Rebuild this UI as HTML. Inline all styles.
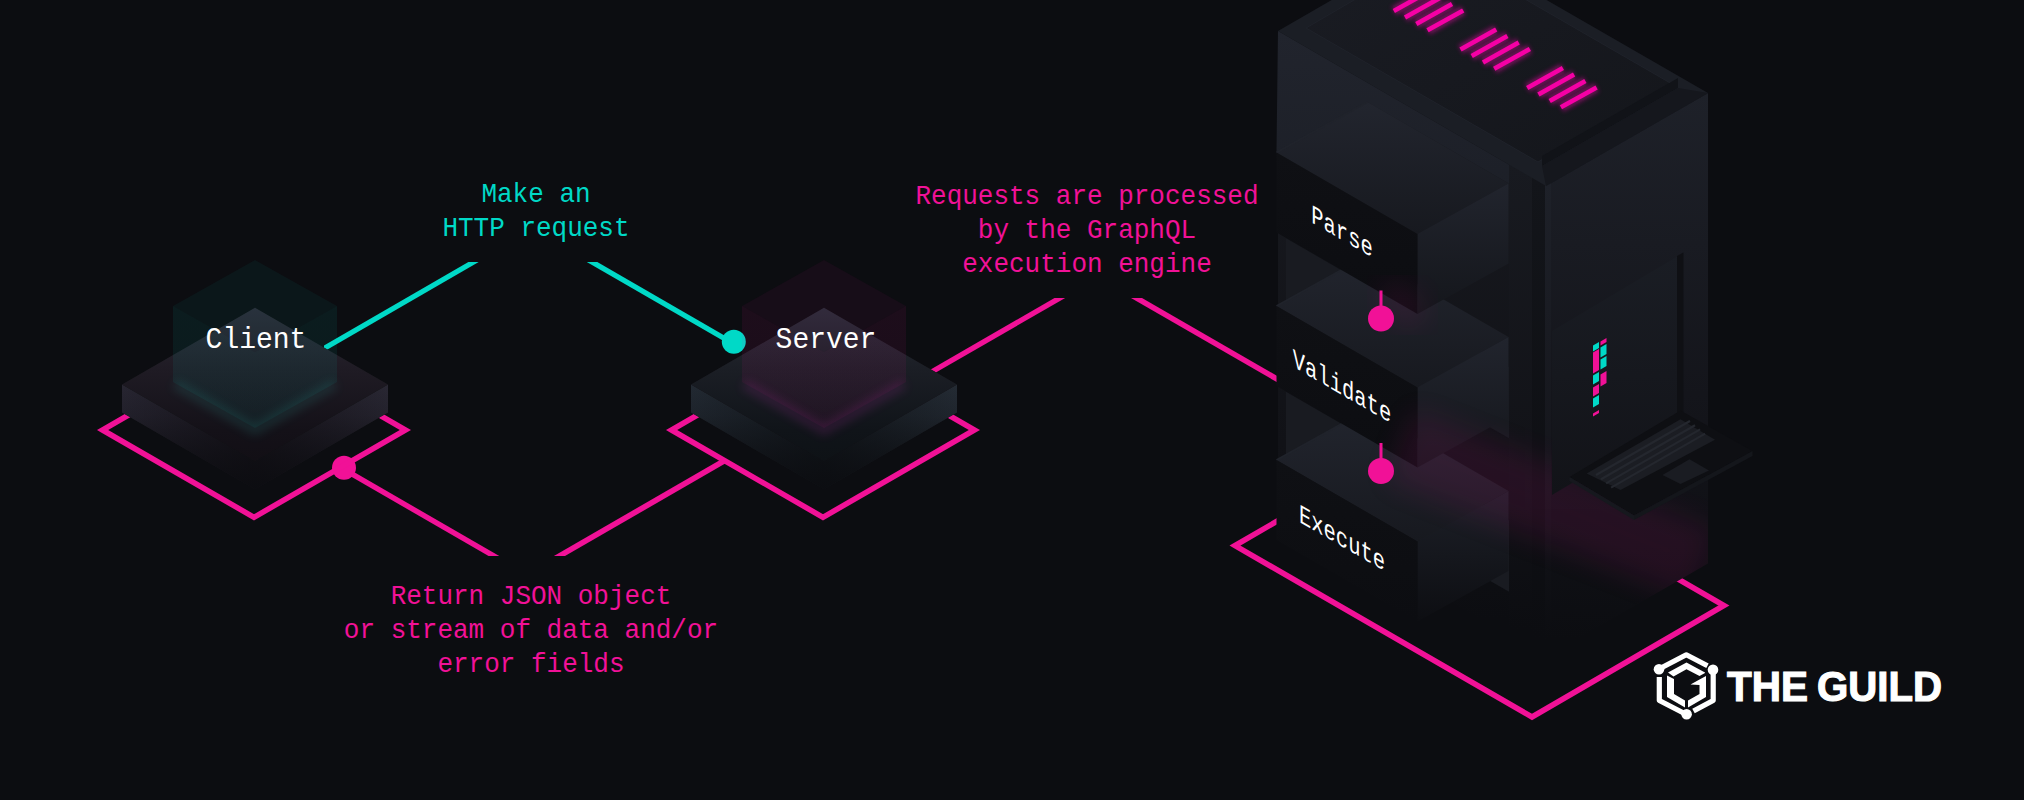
<!DOCTYPE html>
<html><head><meta charset="utf-8"><style>
html,body{margin:0;padding:0;background:#0c0d11;width:2024px;height:800px;overflow:hidden}
svg{display:block}

</style></head><body>
<svg width="2024" height="800" viewBox="0 0 2024 800">
<defs>
  <filter id="blur5" x="-30%" y="-30%" width="160%" height="160%"><feGaussianBlur stdDeviation="5"/></filter>
  <filter id="blur14" x="-50%" y="-50%" width="200%" height="200%"><feGaussianBlur stdDeviation="14"/></filter>
  <clipPath id="towclip"><polygon points="1278,31 1439,-62 1708,93 1708,563.5 1546,657 1278,502"/></clipPath>
  <linearGradient id="lid" x1="0" y1="0" x2="1" y2="1"><stop offset="0" stop-color="#1a1c23"/><stop offset="1" stop-color="#14161b"/></linearGradient>
  <filter id="blur3" x="-20%" y="-20%" width="140%" height="140%"><feGaussianBlur stdDeviation="3"/></filter>
  <filter id="blur2" x="-50%" y="-50%" width="200%" height="200%"><feGaussianBlur stdDeviation="2"/></filter>
  <filter id="blur20" x="-50%" y="-50%" width="200%" height="200%"><feGaussianBlur stdDeviation="20"/></filter>
  <linearGradient id="slabL" x1="0" y1="0" x2="0" y2="1">
    <stop offset="0" stop-color="#21232c"/><stop offset="0.45" stop-color="#1b1b24"/><stop offset="1" stop-color="#0c0d11" stop-opacity="0"/>
  </linearGradient>
  <linearGradient id="slabR" x1="0" y1="0" x2="0" y2="1">
    <stop offset="0" stop-color="#21232c"/><stop offset="0.45" stop-color="#1b1b24"/><stop offset="1" stop-color="#0c0d11" stop-opacity="0"/>
  </linearGradient>
  <linearGradient id="slabT_client" x1="0" y1="0" x2="0" y2="1">
    <stop offset="0" stop-color="#262a33"/><stop offset="1" stop-color="#1a1820"/>
  </linearGradient>
  <linearGradient id="slabT_server" x1="0" y1="0" x2="0" y2="1">
    <stop offset="0" stop-color="#282632"/><stop offset="1" stop-color="#1e1622"/>
  </linearGradient>
  <linearGradient id="glow_client" x1="0" y1="0" x2="0" y2="1"><stop offset="0" stop-color="#1f6a66" stop-opacity="0.2"/><stop offset="1" stop-color="#1f6a66"/></linearGradient>
  <linearGradient id="glow_server" x1="0" y1="0" x2="0" y2="1"><stop offset="0" stop-color="#7a2070" stop-opacity="0.2"/><stop offset="1" stop-color="#7a2070"/></linearGradient>
  <linearGradient id="cubeL_client" x1="0" y1="0" x2="0" y2="1"><stop offset="0" stop-color="#1d5a58" stop-opacity="0.18"/><stop offset="1" stop-color="#1d5a58" stop-opacity="0.22"/></linearGradient>
  <linearGradient id="cubeR_client" x1="0" y1="0" x2="0" y2="1"><stop offset="0" stop-color="#1d5a58" stop-opacity="0.22"/><stop offset="1" stop-color="#1d5a58" stop-opacity="0.26"/></linearGradient>
  <linearGradient id="cubeT_client" x1="0" y1="0" x2="0" y2="1"><stop offset="0" stop-color="#1d5a58" stop-opacity="0.2"/><stop offset="1" stop-color="#1d5a58" stop-opacity="0.2"/></linearGradient>
  <linearGradient id="cubeL_server" x1="0" y1="0" x2="0" y2="1"><stop offset="0" stop-color="#5a1d50" stop-opacity="0.18"/><stop offset="1" stop-color="#5a1d50" stop-opacity="0.22"/></linearGradient>
  <linearGradient id="cubeR_server" x1="0" y1="0" x2="0" y2="1"><stop offset="0" stop-color="#5a1d50" stop-opacity="0.22"/><stop offset="1" stop-color="#5a1d50" stop-opacity="0.26"/></linearGradient>
  <linearGradient id="cubeT_server" x1="0" y1="0" x2="0" y2="1"><stop offset="0" stop-color="#5a1d50" stop-opacity="0.2"/><stop offset="1" stop-color="#5a1d50" stop-opacity="0.2"/></linearGradient>
  <linearGradient id="towL" x1="0" y1="0" x2="0" y2="1"><stop offset="0" stop-color="#1f222b"/><stop offset="0.7" stop-color="#131419"/><stop offset="1" stop-color="#0e0f13"/></linearGradient>
  <linearGradient id="towR" gradientUnits="userSpaceOnUse" x1="0" y1="93" x2="0" y2="640"><stop offset="0" stop-color="#1e2129"/><stop offset="0.55" stop-color="#14151b"/><stop offset="1" stop-color="#0c0d11"/></linearGradient>
  <linearGradient id="blkT" x1="0" y1="0" x2="0" y2="1"><stop offset="0" stop-color="#22252e"/><stop offset="1" stop-color="#17191f"/></linearGradient>
  <linearGradient id="blkR" x1="0" y1="0" x2="0" y2="1"><stop offset="0" stop-color="#21242d"/><stop offset="1" stop-color="#14161b"/></linearGradient>
  <linearGradient id="blkF" x1="0" y1="0" x2="0" y2="1"><stop offset="0" stop-color="#0f1014"/><stop offset="1" stop-color="#0c0d11"/></linearGradient>
  <linearGradient id="cav" gradientUnits="userSpaceOnUse" x1="0" y1="31" x2="0" y2="620"><stop offset="0" stop-color="#1a1c22"/><stop offset="0.7" stop-color="#111217"/><stop offset="1" stop-color="#0c0d11"/></linearGradient>
  <linearGradient id="wallL" x1="0" y1="0" x2="0" y2="1"><stop offset="0" stop-color="#21242d"/><stop offset="1" stop-color="#1c1f27"/></linearGradient>
  <linearGradient id="strip" gradientUnits="userSpaceOnUse" x1="0" y1="164" x2="0" y2="630"><stop offset="0" stop-color="#181a20"/><stop offset="0.6" stop-color="#121318"/><stop offset="1" stop-color="#0c0d11"/></linearGradient>
  <linearGradient id="slit" gradientUnits="userSpaceOnUse" x1="0" y1="177" x2="0" y2="640"><stop offset="0" stop-color="#13151a"/><stop offset="1" stop-color="#0c0d11"/></linearGradient>
  <linearGradient id="bevel" gradientUnits="userSpaceOnUse" x1="0" y1="181" x2="0" y2="640"><stop offset="0" stop-color="#1e2129"/><stop offset="0.6" stop-color="#15161c"/><stop offset="1" stop-color="#0c0d11"/></linearGradient>
  <linearGradient id="panel" x1="0" y1="0" x2="0" y2="1"><stop offset="0" stop-color="#1a1d24"/><stop offset="1" stop-color="#121318"/></linearGradient>
  <linearGradient id="blkRfade" x1="0" y1="0" x2="0" y2="1"><stop offset="0" stop-color="#1d2028"/><stop offset="1" stop-color="#0d0e12"/></linearGradient>
  <linearGradient id="blkFfade" x1="0" y1="0" x2="0" y2="1"><stop offset="0" stop-color="#0f1014"/><stop offset="1" stop-color="#0c0d11"/></linearGradient>
</defs>
<defs><linearGradient id="sl_client" gradientUnits="userSpaceOnUse" x1="122" y1="390" x2="255" y2="480"><stop offset="0" stop-color="#23262f"/><stop offset="1" stop-color="#0f1014"/></linearGradient>
<linearGradient id="sr_client" gradientUnits="userSpaceOnUse" x1="388" y1="390" x2="255" y2="480"><stop offset="0" stop-color="#252831"/><stop offset="1" stop-color="#0f1014"/></linearGradient>
<linearGradient id="st_client" gradientUnits="userSpaceOnUse" x1="255" y1="308" x2="255" y2="461"><stop offset="0" stop-color="#292b35"/><stop offset="0.4" stop-color="#1c1c23"/><stop offset="0.8" stop-color="#111217"/><stop offset="1" stop-color="#0f1014"/></linearGradient>
<linearGradient id="cw_client" gradientUnits="userSpaceOnUse" x1="0" y1="260" x2="0" y2="430"><stop offset="0" stop-color="#00d9c7" stop-opacity="0.08"/><stop offset="0.5" stop-color="#00d9c7" stop-opacity="0.07"/><stop offset="1" stop-color="#00d9c7" stop-opacity="0.06"/></linearGradient>
<linearGradient id="fv_client" gradientUnits="userSpaceOnUse" x1="0" y1="384" x2="0" y2="490"><stop offset="0" stop-color="#0c0d11" stop-opacity="0"/><stop offset="0.3" stop-color="#0c0d11" stop-opacity="0.15"/><stop offset="1" stop-color="#0c0d11" stop-opacity="0.95"/></linearGradient><linearGradient id="sl_server" gradientUnits="userSpaceOnUse" x1="122" y1="390" x2="255" y2="480"><stop offset="0" stop-color="#23262f"/><stop offset="1" stop-color="#0f1014"/></linearGradient>
<linearGradient id="sr_server" gradientUnits="userSpaceOnUse" x1="388" y1="390" x2="255" y2="480"><stop offset="0" stop-color="#252831"/><stop offset="1" stop-color="#0f1014"/></linearGradient>
<linearGradient id="st_server" gradientUnits="userSpaceOnUse" x1="255" y1="308" x2="255" y2="461"><stop offset="0" stop-color="#292b35"/><stop offset="0.4" stop-color="#1c1c23"/><stop offset="0.8" stop-color="#111217"/><stop offset="1" stop-color="#0f1014"/></linearGradient>
<linearGradient id="cw_server" gradientUnits="userSpaceOnUse" x1="0" y1="260" x2="0" y2="430"><stop offset="0" stop-color="#f11197" stop-opacity="0.08"/><stop offset="0.5" stop-color="#f11197" stop-opacity="0.07"/><stop offset="1" stop-color="#f11197" stop-opacity="0.06"/></linearGradient>
<linearGradient id="fv_server" gradientUnits="userSpaceOnUse" x1="0" y1="384" x2="0" y2="490"><stop offset="0" stop-color="#0c0d11" stop-opacity="0"/><stop offset="0.3" stop-color="#0c0d11" stop-opacity="0.15"/><stop offset="1" stop-color="#0c0d11" stop-opacity="0.95"/></linearGradient></defs><rect width="2024" height="800" fill="#0c0d11"/>
<polygon points="468.4,262.1 478.7,262.1 324.0,351.4 324.0,345.5" fill="#00d9c7"/>
<polygon points="586.8,262.0 597.3,262.0 734.0,340.9 734.0,347.0" fill="#00d9c7"/>
<circle cx="733.8" cy="341.8" r="12" fill="#00d9c7"/>
<polygon points="488.6,556.0 499.3,556.0 344.0,466.3 344.0,472.5" fill="#f11197"/>
<polygon points="553.9,556 565,556 727.4,462.3 721.8,459" fill="#f11197"/>
<circle cx="344" cy="467.7" r="12" fill="#f11197"/>
<polygon points="1054.5,297.9 1065.2,297.9 925.0,378.8 925.0,372.7" fill="#f11197"/>
<polygon points="1131.0,297.9 1142.0,297.9 1285.0,380.5 1285.0,386.8" fill="#f11197"/>
<g transform="translate(0,0)">
<polygon points="102.5,430.0 254.0,517.3 405.5,430.0 254.0,342.7" fill="none" stroke="#f11197" stroke-width="5.5" stroke-linejoin="miter"/>
<polygon points="122.0,384.5 255.0,307.7 388.0,384.5 388.0,412.5 255.0,489.3 122.0,412.5" fill="#131318"/>
<polygon points="122.0,384.5 255.0,461.3 255.0,489.3 122.0,412.5" fill="url(#sl_client)"/>
<polygon points="255.0,461.3 388.0,384.5 388.0,412.5 255.0,489.3" fill="url(#sr_client)"/>
<polygon points="122.0,384.5 255.0,461.3 255.0,489.3 122.0,412.5" fill="#f11197" opacity="0.02"/>
<polygon points="255.0,461.3 388.0,384.5 388.0,412.5 255.0,489.3" fill="#f11197" opacity="0.02"/>
<polygon points="122.0,384.5 255.0,307.7 388.0,384.5 255.0,461.3" fill="url(#st_client)"/>
<polygon points="122.0,384.5 255.0,461.3 388.0,384.5 388.0,412.5 255.0,489.3 122.0,412.5" fill="url(#fv_client)"/>
<polygon points="122.0,384.5 255.0,307.7 388.0,384.5 255.0,461.3" fill="#f11197" opacity="0.015"/>
<polyline points="175.0,384.0 255.0,430.0 335.0,384.0" fill="none" stroke="#2a8a84" stroke-width="10" opacity="0.2" filter="url(#blur5)"/>
<polygon points="173.0,306.0 255.0,352.0 255.0,428.0 173.0,382.0" fill="url(#cw_client)"/>
<polygon points="255.0,352.0 337.0,306.0 337.0,382.0 255.0,428.0" fill="url(#cw_client)"/>
<polygon points="173.0,306.0 255.0,260.0 337.0,306.0 255.0,352.0" fill="#00d9c7" opacity="0.05"/>
</g>
<g transform="translate(569,0)">
<polygon points="102.5,430.0 254.0,517.3 405.5,430.0 254.0,342.7" fill="none" stroke="#f11197" stroke-width="5.5" stroke-linejoin="miter"/>
<polygon points="122.0,384.5 255.0,307.7 388.0,384.5 388.0,412.5 255.0,489.3 122.0,412.5" fill="#131318"/>
<polygon points="122.0,384.5 255.0,461.3 255.0,489.3 122.0,412.5" fill="url(#sl_server)"/>
<polygon points="255.0,461.3 388.0,384.5 388.0,412.5 255.0,489.3" fill="url(#sr_server)"/>
<polygon points="122.0,384.5 255.0,461.3 255.0,489.3 122.0,412.5" fill="#00d9c7" opacity="0.02"/>
<polygon points="255.0,461.3 388.0,384.5 388.0,412.5 255.0,489.3" fill="#00d9c7" opacity="0.02"/>
<polygon points="122.0,384.5 255.0,307.7 388.0,384.5 255.0,461.3" fill="url(#st_server)"/>
<polygon points="122.0,384.5 255.0,461.3 388.0,384.5 388.0,412.5 255.0,489.3 122.0,412.5" fill="url(#fv_server)"/>
<polygon points="122.0,384.5 255.0,307.7 388.0,384.5 255.0,461.3" fill="#00d9c7" opacity="0.015"/>
<polyline points="175.0,384.0 255.0,430.0 335.0,384.0" fill="none" stroke="#a02a95" stroke-width="10" opacity="0.2" filter="url(#blur5)"/>
<polygon points="173.0,306.0 255.0,352.0 255.0,428.0 173.0,382.0" fill="url(#cw_server)"/>
<polygon points="255.0,352.0 337.0,306.0 337.0,382.0 255.0,428.0" fill="url(#cw_server)"/>
<polygon points="173.0,306.0 255.0,260.0 337.0,306.0 255.0,352.0" fill="#f11197" opacity="0.05"/>
</g>
<text x="536" y="0" transform="translate(0,202) scale(1,1.08)" text-anchor="middle" fill="#00d9c7" font-size="26" font-family="Liberation Mono, monospace" xml:space="preserve">Make an</text>
<text x="536" y="0" transform="translate(0,236) scale(1,1.08)" text-anchor="middle" fill="#00d9c7" font-size="26" font-family="Liberation Mono, monospace" xml:space="preserve">HTTP request</text>
<text x="1087" y="0" transform="translate(0,204.4) scale(1,1.08)" text-anchor="middle" fill="#f11197" font-size="26" font-family="Liberation Mono, monospace" xml:space="preserve">Requests are processed</text>
<text x="1087" y="0" transform="translate(0,237.9) scale(1,1.08)" text-anchor="middle" fill="#f11197" font-size="26" font-family="Liberation Mono, monospace" xml:space="preserve">by the GraphQL</text>
<text x="1087" y="0" transform="translate(0,271.7) scale(1,1.08)" text-anchor="middle" fill="#f11197" font-size="26" font-family="Liberation Mono, monospace" xml:space="preserve">execution engine</text>
<text x="531" y="0" transform="translate(0,604) scale(1,1.08)" text-anchor="middle" fill="#f11197" font-size="26" font-family="Liberation Mono, monospace" xml:space="preserve">Return JSON object</text>
<text x="531" y="0" transform="translate(0,637.5) scale(1,1.08)" text-anchor="middle" fill="#f11197" font-size="26" font-family="Liberation Mono, monospace" xml:space="preserve">or stream of data and/or</text>
<text x="531" y="0" transform="translate(0,671.9) scale(1,1.08)" text-anchor="middle" fill="#f11197" font-size="26" font-family="Liberation Mono, monospace" xml:space="preserve">error fields</text>
<text x="256" y="0" transform="translate(0,347.9) scale(1,1.057)" text-anchor="middle" fill="#ffffff" font-size="28" font-family="Liberation Mono, monospace" xml:space="preserve">Client</text>
<text x="826" y="0" transform="translate(0,347.9) scale(1,1.057)" text-anchor="middle" fill="#ffffff" font-size="28" font-family="Liberation Mono, monospace" xml:space="preserve">Server</text>
<polygon points="1235.0,545.6 1532.0,717.0 1724.0,605.5 1427.0,434.1" fill="none" stroke="#f11197" stroke-width="5.5"/>
<polygon points="1546.0,186.0 1708.0,93.0 1708.0,563.5 1546.0,657.0" fill="url(#towR)"/>
<polygon points="1278.0,31.0 1546.0,186.0 1546.0,657.0 1278.0,502.0" fill="url(#cav)"/>
<polygon points="1278.0,31.0 1546.0,186.0 1546.0,205.0 1509.0,183.5 1367.5,102.0 1276.5,152.5" fill="url(#wallL)"/>
<polygon points="1509.0,164.0 1532.0,177.0 1532.0,640.0 1509.0,627.0" fill="url(#strip)"/>
<polygon points="1532.0,177.0 1545.0,184.5 1545.0,650.0 1532.0,640.0" fill="url(#slit)"/>
<polygon points="1545.0,184.5 1551.0,181.0 1551.0,650.0 1545.0,650.0" fill="url(#bevel)"/>
<polygon points="1278.0,31.0 1439.0,-62.0 1708.0,93.0 1546.0,186.0" fill="#1b1e25"/>
<polygon points="1306.0,28.0 1440.0,-50.0 1672.0,84.0 1538.0,162.0" fill="url(#lid)" stroke="#1f222a" stroke-width="1" stroke-linejoin="round"/>
<polygon points="1542.0,156.0 1678.0,78.0 1678.0,88.0 1542.0,166.0" fill="#111318"/>
<polygon points="1542.0,166.0 1678.0,88.0 1708.0,93.0 1546.0,186.0" fill="#15171d"/>
<polygon points="1286.0,238.3 1509.0,367.0 1509.0,438.3 1286.0,310.3" fill="#191b21"/>
<polygon points="1286.0,391.8 1509.0,520.5 1509.0,591.8 1286.0,463.8" fill="#191b21"/>
<polygon points="1276.5,460.0 1367.5,409.5 1508.5,491.0 1417.5,541.5" fill="url(#blkT)"/>
<line x1="1276.5" y1="460" x2="1367.5" y2="409.5" stroke="#20232b" stroke-width="2"/>
<polygon points="1417.5,541.5 1508.5,491.0 1508.5,571.0 1417.5,621.5" fill="url(#blkRfade)"/>
<polygon points="1276.5,460.0 1417.5,541.5 1417.5,621.5 1276.5,540.0" fill="url(#blkFfade)"/>
<polygon points="1276.5,306.0 1367.5,255.5 1508.5,337.0 1417.5,387.5" fill="url(#blkT)"/>
<line x1="1276.5" y1="306" x2="1367.5" y2="255.5" stroke="#20232b" stroke-width="2"/>
<polygon points="1417.5,387.5 1508.5,337.0 1508.5,417.0 1417.5,467.5" fill="url(#blkR)"/>
<polygon points="1276.5,306.0 1417.5,387.5 1417.5,467.5 1276.5,386.0" fill="url(#blkF)"/>
<polygon points="1276.5,152.5 1367.5,102.0 1508.5,183.5 1417.5,234.0" fill="url(#blkT)"/>
<line x1="1276.5" y1="152.5" x2="1367.5" y2="102.0" stroke="#20232b" stroke-width="2"/>
<polygon points="1417.5,234.0 1508.5,183.5 1508.5,263.5 1417.5,314.0" fill="url(#blkR)"/>
<polygon points="1276.5,152.5 1417.5,234.0 1417.5,314.0 1276.5,232.5" fill="url(#blkF)"/>
<line x1="1393.8" y1="11.0" x2="1429.5" y2="-8.9" stroke="#c0108a" stroke-width="10" opacity="0.5" filter="url(#blur2)"/>
<line x1="1405.0" y1="17.4" x2="1440.7" y2="-2.5" stroke="#c0108a" stroke-width="10" opacity="0.5" filter="url(#blur2)"/>
<line x1="1416.3" y1="23.9" x2="1452.0" y2="4.0" stroke="#c0108a" stroke-width="10" opacity="0.5" filter="url(#blur2)"/>
<line x1="1427.5" y1="30.3" x2="1463.2" y2="10.4" stroke="#c0108a" stroke-width="10" opacity="0.5" filter="url(#blur2)"/>
<line x1="1460.5" y1="49.5" x2="1496.2" y2="29.6" stroke="#c0108a" stroke-width="10" opacity="0.5" filter="url(#blur2)"/>
<line x1="1471.7" y1="55.9" x2="1507.4" y2="36.0" stroke="#c0108a" stroke-width="10" opacity="0.5" filter="url(#blur2)"/>
<line x1="1483.0" y1="62.4" x2="1518.7" y2="42.5" stroke="#c0108a" stroke-width="10" opacity="0.5" filter="url(#blur2)"/>
<line x1="1494.2" y1="68.8" x2="1529.9" y2="48.9" stroke="#c0108a" stroke-width="10" opacity="0.5" filter="url(#blur2)"/>
<line x1="1527.2" y1="88.0" x2="1562.9" y2="68.1" stroke="#c0108a" stroke-width="10" opacity="0.5" filter="url(#blur2)"/>
<line x1="1538.4" y1="94.4" x2="1574.1" y2="74.5" stroke="#c0108a" stroke-width="10" opacity="0.5" filter="url(#blur2)"/>
<line x1="1549.7" y1="100.9" x2="1585.4" y2="81.0" stroke="#c0108a" stroke-width="10" opacity="0.5" filter="url(#blur2)"/>
<line x1="1560.9" y1="107.3" x2="1596.6" y2="87.4" stroke="#c0108a" stroke-width="10" opacity="0.5" filter="url(#blur2)"/>
<line x1="1393.8" y1="11.0" x2="1429.5" y2="-8.9" stroke="#f500a5" stroke-width="4.6"/>
<line x1="1405.0" y1="17.4" x2="1440.7" y2="-2.5" stroke="#f500a5" stroke-width="4.6"/>
<line x1="1416.3" y1="23.9" x2="1452.0" y2="4.0" stroke="#f500a5" stroke-width="4.6"/>
<line x1="1427.5" y1="30.3" x2="1463.2" y2="10.4" stroke="#f500a5" stroke-width="4.6"/>
<line x1="1460.5" y1="49.5" x2="1496.2" y2="29.6" stroke="#f500a5" stroke-width="4.6"/>
<line x1="1471.7" y1="55.9" x2="1507.4" y2="36.0" stroke="#f500a5" stroke-width="4.6"/>
<line x1="1483.0" y1="62.4" x2="1518.7" y2="42.5" stroke="#f500a5" stroke-width="4.6"/>
<line x1="1494.2" y1="68.8" x2="1529.9" y2="48.9" stroke="#f500a5" stroke-width="4.6"/>
<line x1="1527.2" y1="88.0" x2="1562.9" y2="68.1" stroke="#f500a5" stroke-width="4.6"/>
<line x1="1538.4" y1="94.4" x2="1574.1" y2="74.5" stroke="#f500a5" stroke-width="4.6"/>
<line x1="1549.7" y1="100.9" x2="1585.4" y2="81.0" stroke="#f500a5" stroke-width="4.6"/>
<line x1="1560.9" y1="107.3" x2="1596.6" y2="87.4" stroke="#f500a5" stroke-width="4.6"/>
<g clip-path="url(#towclip)"><line x1="1400" y1="445" x2="1705" y2="565" stroke="#c0127f" stroke-width="75" opacity="0.12" filter="url(#blur14)"/></g>
<line x1="1385" y1="290" x2="1420" y2="320" stroke="#c0127f" stroke-width="30" opacity="0.12" filter="url(#blur14)"/>
<polygon points="1552.0,331.0 1678.0,256.0 1678.0,420.0 1552.0,495.0" fill="url(#panel)"/>
<polygon points="1677.0,256.0 1683.5,252.5 1683.5,412.0 1677.0,416.0" fill="#0f1014"/>
<polygon points="1593.0,345.5 1599.0,342.0 1599.0,348.0 1593.0,351.5" fill="#00d9c7"/>\n<polygon points="1593.0,352.5 1599.0,349.0 1599.0,370.0 1593.0,373.5" fill="#f11197"/>\n<polygon points="1593.0,375.5 1599.0,372.0 1599.0,381.0 1593.0,384.5" fill="#00d9c7"/>\n<polygon points="1593.0,387.5 1599.0,384.0 1599.0,393.0 1593.0,396.5" fill="#f11197"/>\n<polygon points="1593.0,398.5 1599.0,395.0 1599.0,404.0 1593.0,407.5" fill="#00d9c7"/>\n<polygon points="1593.0,413.5 1599.0,410.0 1599.0,413.0 1593.0,416.5" fill="#f11197"/>\n<polygon points="1600.5,341.5 1606.5,338.0 1606.5,342.0 1600.5,345.5" fill="#f11197"/>\n<polygon points="1600.5,347.5 1606.5,344.0 1606.5,354.0 1600.5,357.5" fill="#00d9c7"/>\n<polygon points="1600.5,359.5 1606.5,356.0 1606.5,366.0 1600.5,369.5" fill="#00d9c7"/>\n<polygon points="1600.5,374.5 1606.5,371.0 1606.5,383.0 1600.5,386.5" fill="#f11197"/>
<polygon points="1569.5,477.0 1680.5,410.5 1752.5,451.0 1634.0,515.5" fill="#0e0f13"/>
<polygon points="1569.5,477.0 1634.0,515.5 1634.0,520.0 1569.5,481.0" fill="#16181e"/>
<polygon points="1634.0,515.5 1752.5,451.0 1752.5,456.0 1634.0,520.0" fill="#14161b"/>
<polygon points="1586.7,473.5 1680.5,419.2 1715.0,439.7 1620.5,490.0" fill="#1b1d23"/>
<line x1="1596.0" y1="475.0" x2="1690.0" y2="421.0" stroke="#24272e" stroke-width="2.2"/>
<line x1="1601.0" y1="479.2" x2="1695.0" y2="425.2" stroke="#24272e" stroke-width="2.2"/>
<line x1="1606.1" y1="483.4" x2="1700.1" y2="429.4" stroke="#24272e" stroke-width="2.2"/>
<line x1="1611.1" y1="487.6" x2="1705.1" y2="433.6" stroke="#24272e" stroke-width="2.2"/>
<polygon points="1662.5,475.0 1689.5,459.2 1709.0,470.5 1680.5,484.0" fill="#1a1c22"/>
<text x="0" y="0" transform="matrix(0.82,0.4734,0,1.08,1342,240)" text-anchor="middle" fill="#ffffff" font-size="25" font-family="Liberation Mono, monospace" xml:space="preserve">Parse</text>
<text x="0" y="0" transform="matrix(0.82,0.4734,0,1.08,1342,395)" text-anchor="middle" fill="#ffffff" font-size="25" font-family="Liberation Mono, monospace" xml:space="preserve">Validate</text>
<text x="0" y="0" transform="matrix(0.82,0.4734,0,1.08,1342,546.5)" text-anchor="middle" fill="#ffffff" font-size="25" font-family="Liberation Mono, monospace" xml:space="preserve">Execute</text>
<rect x="1379.5" y="290.5" width="3" height="20" fill="#f11197"/>
<circle cx="1381" cy="318.5" r="13" fill="#f11197"/>
<rect x="1379.5" y="443" width="3" height="20" fill="#f11197"/>
<circle cx="1381" cy="471" r="13" fill="#f11197"/>
<path d="M1659,669 L1686.3,654.8 L1707.5,665.8" fill="none" stroke="#ffffff" stroke-width="5.2" stroke-linejoin="round"/>
<path d="M1659.3,677 L1659.3,700.5 L1686.5,714.5" fill="none" stroke="#ffffff" stroke-width="5.2" stroke-linejoin="round"/>
<path d="M1693.5,711 L1713.2,700.5 L1713.2,670" fill="none" stroke="#ffffff" stroke-width="5.2" stroke-linejoin="round"/>
<circle cx="1659" cy="669.3" r="5.3" fill="#ffffff"/>
<circle cx="1713" cy="669.8" r="5.3" fill="#ffffff"/>
<circle cx="1686.6" cy="714.3" r="5.3" fill="#ffffff"/>
<polygon points="1668,672.5 1686.5,662.5 1705,672.5 1705,673 1699.5,676 1686.5,669.3 1673.5,676.5" fill="#ffffff"/>
<polygon points="1667,675.5 1674,679 1674,694 1685,700.5 1685,707.5 1667,697" fill="#ffffff"/>
<polygon points="1688,707.5 1688,700.5 1699.5,694 1699.5,685 1690.5,684.5 1699.5,679.5 1706,676 1706,697" fill="#ffffff"/>
<text x="1727" y="701.3" textLength="81" lengthAdjust="spacingAndGlyphs" font-family="Liberation Sans, sans-serif" font-weight="bold" font-size="43" fill="#ffffff" stroke="#ffffff" stroke-width="1.2">THE</text>
<text x="1817" y="701.3" textLength="125" lengthAdjust="spacingAndGlyphs" font-family="Liberation Sans, sans-serif" font-weight="bold" font-size="43" fill="#ffffff" stroke="#ffffff" stroke-width="1.2">GUILD</text></svg>
</body></html>
